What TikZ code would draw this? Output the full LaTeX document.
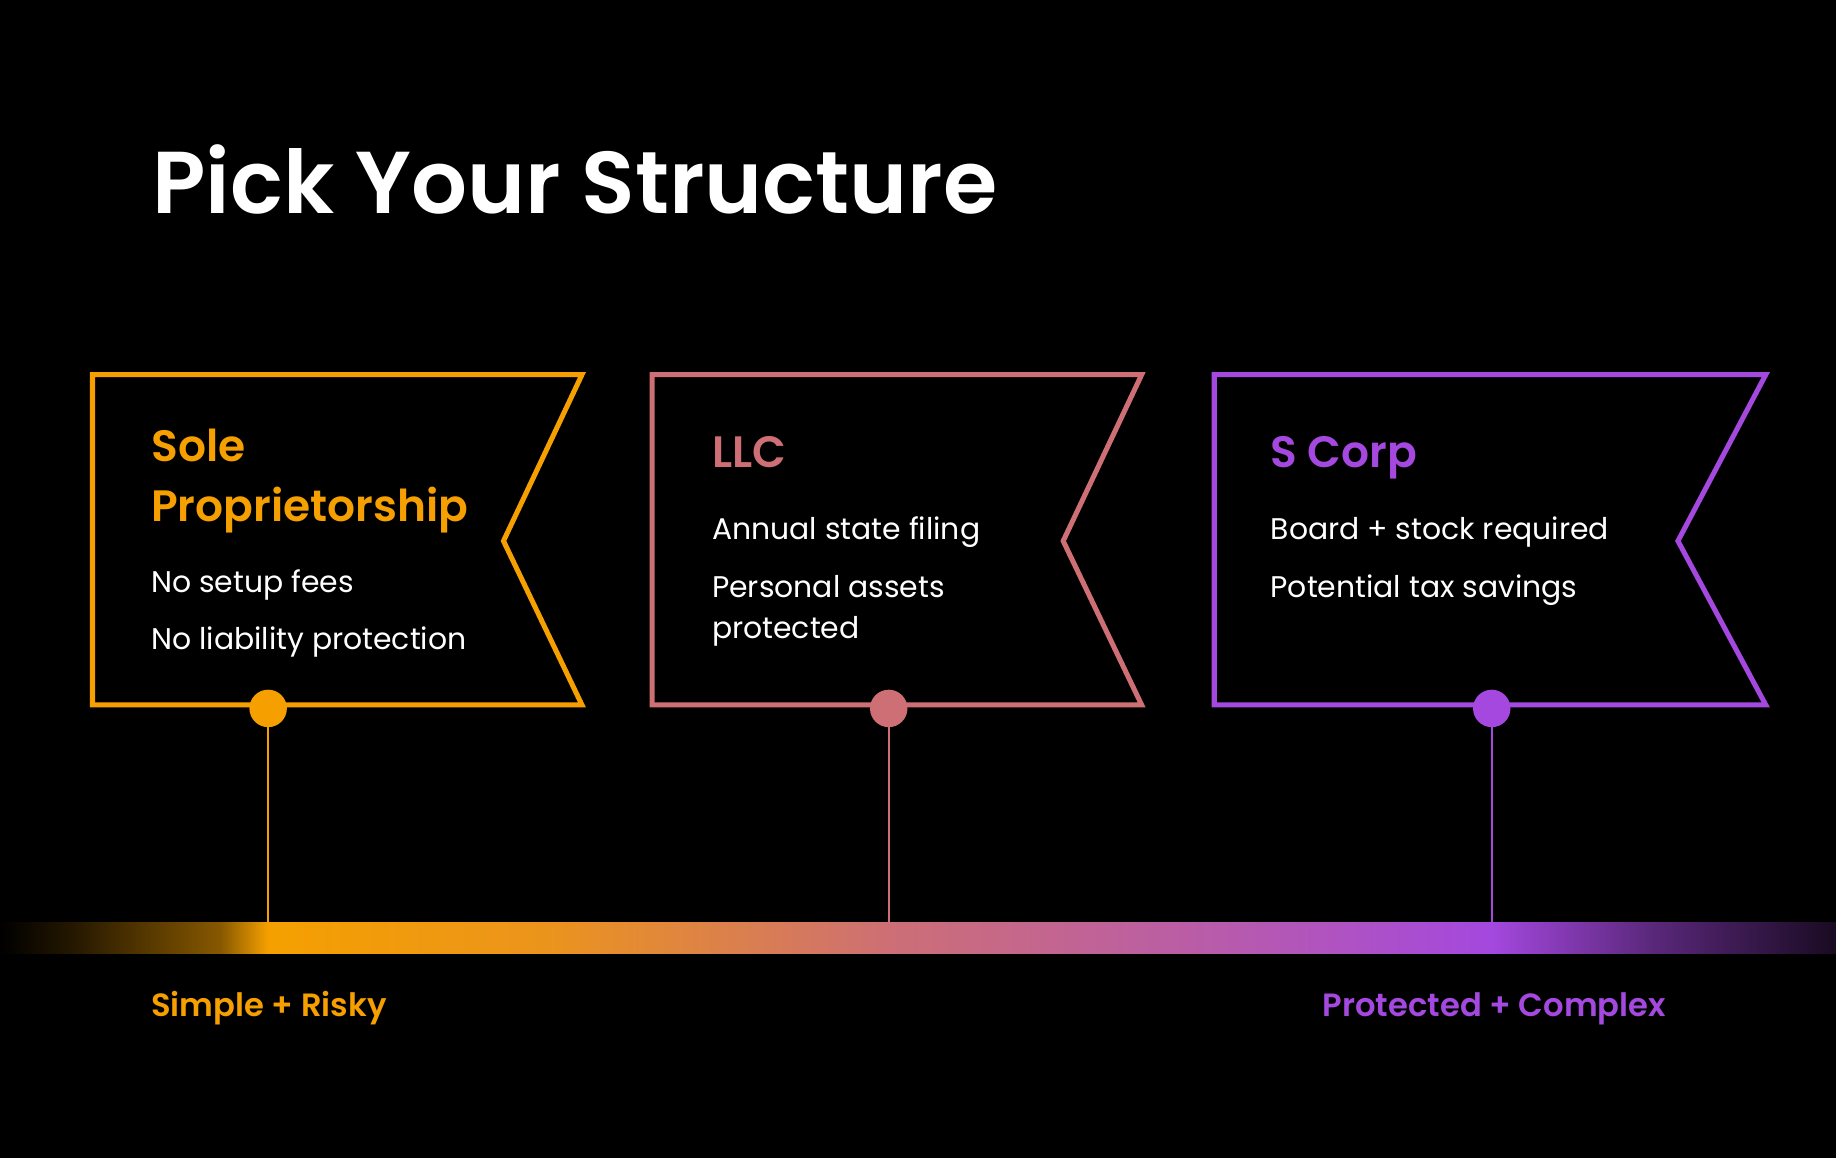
\documentclass[tikz,border=0pt]{standalone}
\usepackage{fontspec}
\setmainfont{Poppins}
\newfontfamily\headfont{Poppins SemiBold}
\usetikzlibrary{positioning}
\definecolor{soleorange}{HTML}{F5A000}
\definecolor{llcrose}{HTML}{CD6F75}
\definecolor{corppurple}{HTML}{A448DF}
% stops sit between 25bp and 75bp (the part that is stretched over the bar)
\pgfdeclarehorizontalshading{barshade}{100bp}{%
  color(0bp)=(black); color(25bp)=(black);
  color(27bp)=(black!85!soleorange);
  color(31bp)=(black!45!soleorange);
  color(32.3bp)=(soleorange);
  color(40bp)=(soleorange!75!llcrose);
  color(49.2bp)=(llcrose);
  color(58bp)=(llcrose!50!corppurple);
  color(65.6bp)=(corppurple);
  color(70bp)=(corppurple!55!black);
  color(75bp)=(corppurple!15!black);
  color(100bp)=(corppurple!15!black)}
\tikzset{%
  flag/.style = {line width=4.3pt, line join=miter},
  dot/.style = {circle, fill=#1, minimum size=32pt, inner sep=0pt},
  tick/.style = {line width=2pt},
  head/.style = {anchor=base west, inner sep=0pt, font=\headfont\fontsize{37.5}{51}\selectfont,
        align=left},
  item/.style = {anchor=base west, inner sep=0pt, text=white,
        font=\fontsize{25.5}{35}\selectfont, align=left},
  pole/.style = {anchor=base west, inner sep=0pt, font=\headfont\fontsize{27.5}{34}\selectfont}
}
\begin{document}
\begin{tikzpicture}[x=1pt,y=1pt]
   \fill[black] (0,0) rectangle (1568,-989);
   \useasboundingbox (0,0) rectangle (1568,-989);
   \node[anchor=base west, inner sep=0pt, text=white,
         font=\headfont\fontsize{75}{90}\selectfont] (title) at (130,-182) {Pick Your Structure};
   % gradient bar
   \shade[shading=barshade] (0,-788) rectangle (1568,-814);
   \coordinate (tick-sole) at (229,-788);
   \coordinate (tick-llc) at (759,-788);
   \coordinate (tick-corp) at (1274,-788);
   % flags
   \draw[flag, soleorange] (79,-320) -- (497,-320) -- (430,-462) -- (497,-602) -- (79,-602) -- cycle;
   \draw[flag, llcrose] (557,-320) -- (975,-320) -- (908,-462) -- (975,-602) -- (557,-602) -- cycle;
   \draw[flag, corppurple] (1037,-320) -- (1508,-320) -- (1433,-462) -- (1508,-602) -- (1037,-602) -- cycle;
   \node[dot=soleorange] (dot-sole) at (229,-605) {};
   \node[dot=llcrose] (dot-llc) at (759,-605) {};
   \node[dot=corppurple] (dot-corp) at (1274,-605) {};
   \draw[tick, soleorange] (dot-sole) -- (tick-sole);
   \draw[tick, llcrose] (dot-llc) -- (tick-llc);
   \draw[tick, corppurple] (dot-corp) -- (tick-corp);
   % sole proprietorship (base of a two-line node is its last line)
   \node[head, text=soleorange] (head-sole) at (129,-445) {Sole\\Proprietorship};
   \node[item] (sole-a) at ([yshift=-61pt]head-sole.base west) {No setup fees};
   \node[item] (sole-b) at ([yshift=-49pt]sole-a.base west) {No liability protection};
   % llc
   \node[head, text=llcrose] (head-llc) at (608,-399) {LLC};
   \node[item] (llc-a) at ([yshift=-62pt]head-llc.base west) {Annual state filing};
   \node[item] (llc-b) at ([yshift=-84pt]llc-a.base west) {Personal assets\\protected};
   % s corp
   \node[head, text=corppurple] (head-corp) at (1085,-399) {S Corp};
   \node[item] (corp-a) at ([yshift=-62pt]head-corp.base west) {Board + stock required};
   \node[item] (corp-b) at ([yshift=-49pt]corp-a.base west) {Potential tax savings};
   % ends of the scale
   \node[pole, text=soleorange] (simple) at (129,-868) {Simple + Risky};
   \node[pole, text=corppurple, anchor=base east] (complex) at (1423,-868) {Protected + Complex};
\end{tikzpicture}
\end{document}
